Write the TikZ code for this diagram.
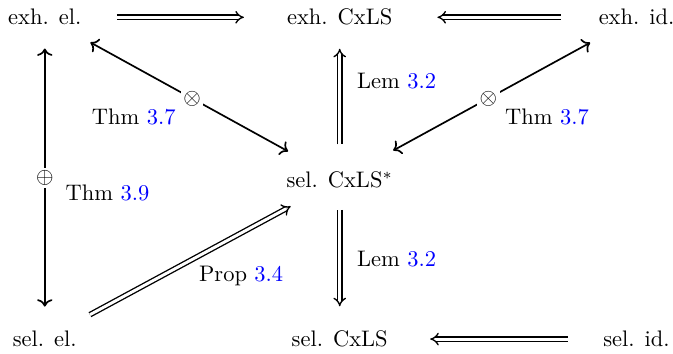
\documentclass[tikz,border=0pt]{standalone}
\usepackage{amsmath,xcolor}
\usetikzlibrary{arrows.meta}

\begin{document}
\begin{tikzpicture}[line cap=round,line join=round,>=To,x=1.0cm,y=1.0cm,
		dblarr/.style={double,double distance=1.3pt,line width=0.6pt,line cap=butt,-{Implies}},
		biarr/.style={line width=0.75pt,<->},
		sym/.style={fill=white,inner sep=1.2pt}]
			\useasboundingbox (0.,0.) rectangle (10.52,5.53);
			\node (exhEl) at (0.70,5.26) {exh. el.};
			\node (exhCx) at (5.31,5.26) {exh. CxLS};
			\node (exhId) at (9.95,5.26) {exh. id.};
			\node (selCxs) at (5.31,2.72) {sel. CxLS$^*$};
			\node (selEl) at (0.70,0.23) {sel. el.};
			\node (selCx) at (5.31,0.23) {sel. CxLS};
			\node (selId) at (9.95,0.23) {sel. id.};
			\draw [dblarr,shorten <=0.43cm,shorten >=0.55cm] (exhEl) -- (exhCx);
			\draw [dblarr,shorten <=0.47cm,shorten >=0.58cm] (exhId) -- (exhCx);
			\draw [dblarr,shorten <=0.43cm,shorten >=0.54cm] (selId) -- (selCx);
			\draw [dblarr,shorten <=0.30cm,shorten >=0.24cm] (selCxs) -- (exhCx);
			\draw [dblarr,shorten <=0.22cm,shorten >=0.26cm] (selCxs) -- (selCx);
			\draw [dblarr,shorten <=0.28cm,shorten >=0.34cm] (selEl) -- (selCxs);
			\draw [biarr,shorten <=0.30cm,shorten >=0.40cm] (exhEl) -- node[sym] (otA) {$\otimes$} (selCxs);
			\draw [biarr,shorten <=0.31cm,shorten >=0.43cm] (exhId) -- node[sym] (otB) {$\otimes$} (selCxs);
			\draw [biarr,shorten <=0.24cm,shorten >=0.26cm] (exhEl) -- node[sym] (opA) {$\oplus$} (selEl);
			\node (thmA) at (2.09,3.70) {Thm \textcolor{blue}{3.7}};
			\node (thmB) at (8.55,3.70) {Thm \textcolor{blue}{3.7}};
			\node (thmC) at (1.68,2.52) {Thm \textcolor{blue}{3.9}};
			\node (lemA) at (6.20,4.27) {Lem \textcolor{blue}{3.2}};
			\node (lemB) at (6.20,1.48) {Lem \textcolor{blue}{3.2}};
			\node (propA) at (3.77,1.21) {Prop \textcolor{blue}{3.4}};
		\end{tikzpicture}
\end{document}
